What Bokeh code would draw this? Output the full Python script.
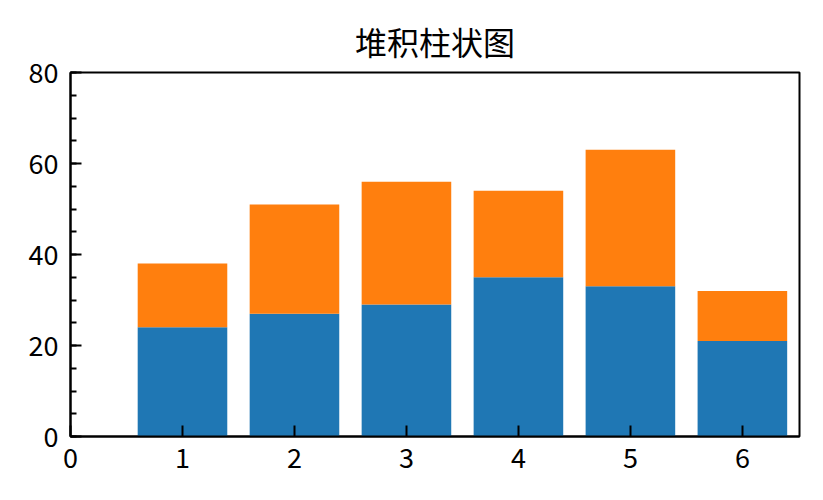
from bokeh.plotting import figure
from bokeh.models import Range1d, FixedTicker, SingleIntervalTicker
from bokeh.embed import file_html
from bokeh.resources import INLINE

title_text = "堆积柱状图"
categories = [1, 2, 3, 4, 5, 6]
series_bottom = [24, 27, 29, 35, 33, 21]
series_top = [14, 24, 27, 19, 30, 11]
x_ticks = [0, 1, 2, 3, 4, 5, 6]

FONT = "Noto Sans CJK SC"

p = figure(width=815, height=492, output_backend="svg", toolbar_location=None,
           x_range=Range1d(0, 6.51), y_range=Range1d(0, 80),
           min_border_left=70, min_border_right=16, min_border_top=72, min_border_bottom=56)

p.title.text = title_text
p.title.align = "center"
p.title.text_font = FONT
p.title.text_font_size = "32px"
p.title.text_font_style = "normal"
p.title.text_color = "black"
p.title.standoff = 18

stack_tops = [a + b for a, b in zip(series_bottom, series_top)]
p.vbar(x=categories, top=series_bottom, bottom=0, width=0.8, color="#1f77b4", line_color=None)
p.vbar(x=categories, top=stack_tops, bottom=series_bottom,
       width=0.8, color="#ff7f0e", line_color=None)

p.grid.visible = False
p.outline_line_color = "black"
p.outline_line_width = 2
p.outline_line_alpha = 1
p.background_fill_color = "white"
p.border_fill_color = "white"

p.xaxis.ticker = FixedTicker(ticks=x_ticks)
p.yaxis.ticker = SingleIntervalTicker(interval=20, num_minor_ticks=4)

for ax in (p.xaxis[0], p.yaxis[0]):
    ax.axis_line_width = 2
    ax.axis_line_color = "black"
    ax.major_tick_in = 11
    ax.major_tick_out = 0
    ax.minor_tick_in = 6
    ax.minor_tick_out = 0
    ax.major_tick_line_width = 2
    ax.minor_tick_line_width = 2
    ax.major_label_text_font = FONT
    ax.major_label_text_font_size = "27px"
    ax.major_label_text_color = "black"

p.xaxis.minor_tick_line_color = None
p.xaxis.major_label_standoff = 11
p.yaxis.major_label_standoff = 12

open("out.html", "w").write(file_html(p, INLINE))
